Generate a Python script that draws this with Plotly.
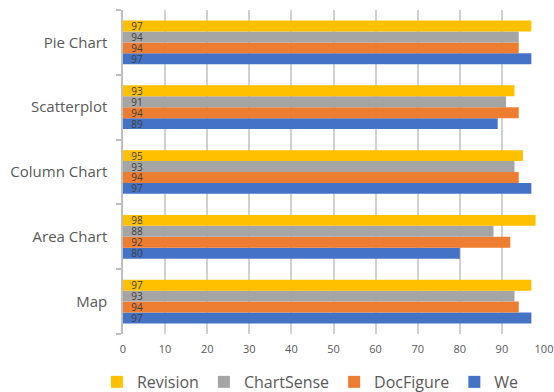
import plotly.graph_objects as go

categories = ["Map", "Area Chart", "Column Chart", "Scatterplot", "Pie Chart"]
we = [97, 80, 97, 89, 97]
docfigure = [94, 92, 94, 94, 94]
chartsense = [93, 88, 93, 91, 94]
revision = [97, 98, 95, 93, 97]
x_ticks = [0, 10, 20, 30, 40, 50, 60, 70, 80, 90, 100]

series = [
    ("We", we, "#4472C4"),
    ("DocFigure", docfigure, "#ED7D31"),
    ("ChartSense", chartsense, "#A5A5A5"),
    ("Revision", revision, "#FFC000"),
]

font_family = "'Open Sans', sans-serif"

fig = go.Figure()
for name, vals, color in series:
    fig.add_trace(go.Bar(
        y=categories,
        x=vals,
        name=name,
        orientation="h",
        marker=dict(color=color, line=dict(width=0)),
        text=vals,
        texttemplate="  %{x}",
        textposition="inside",
        insidetextanchor="start",
        textfont=dict(size=10, color="#404040", family=font_family),
        cliponaxis=False,
    ))

fig.update_layout(
    width=554,
    height=392,
    margin=dict(l=123, r=10, t=10, b=58, autoexpand=False),
    paper_bgcolor="white",
    plot_bgcolor="white",
    barmode="group",
    bargap=0.325,
    bargroupgap=0,
    font=dict(family=font_family, color="#595959"),
    uniformtext=dict(minsize=10, mode="show"),
    showlegend=True,
    legend=dict(
        orientation="h",
        traceorder="reversed",
        x=-0.062,
        xanchor="left",
        y=-0.148,
        yanchor="middle",
        font=dict(size=16, color="#595959", family=font_family),
        itemwidth=30,
    ),
)

fig.update_xaxes(
    range=[0, 100],
    tickvals=x_ticks,
    showgrid=True,
    gridcolor="#d0d0d0",
    gridwidth=1.5,
    zeroline=False,
    showline=False,
    ticks="",
    ticklabelstandoff=7,
    tickfont=dict(size=11, color="#595959", family=font_family),
)

fig.update_yaxes(
    categoryorder="array",
    categoryarray=categories,
    showline=True,
    linecolor="#bfbfbf",
    linewidth=1.5,
    ticks="outside",
    ticklen=5,
    tickcolor="#bfbfbf",
    tickwidth=1.5,
    tickson="boundaries",
    ticklabelstandoff=11,
    showgrid=False,
    tickfont=dict(size=15, color="#595959", family=font_family),
)

fig.write_html("out.html")
